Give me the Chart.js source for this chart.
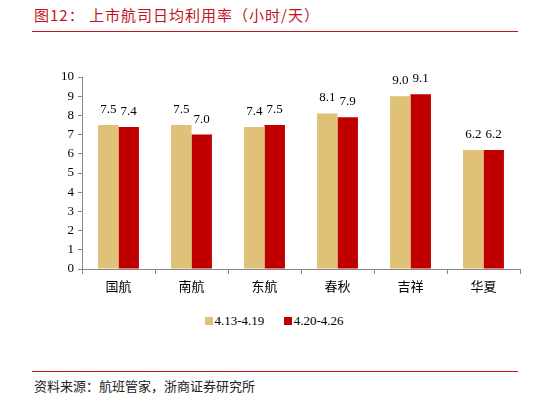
<!DOCTYPE html>
<html lang="zh-CN">
<head>
<meta charset="UTF-8">
<title>上市航司日均利用率</title>
<script src="https://cdn.jsdelivr.net/npm/chart.js"></script>
<style>
    body { margin: 0; width: 548px; height: 402px; background: #fff; position: relative; overflow: hidden; }
    .title { position: absolute; left: 34px; top: 4px; font: 15px "Noto Sans CJK SC", sans-serif; color: #C0141C; letter-spacing: 1px; }
    .line { position: absolute; left: 32px; width: 486px; height: 1px; background: #C0141C; }
    .source { position: absolute; left: 34px; top: 376px; font: 13px "Noto Sans CJK SC", sans-serif; color: #222; }
    .legend { position: absolute; top: 313px; left: 0; width: 548px; text-align: center; font: 13px "Liberation Serif", serif; color: #000; }
    .legend span.box { display: inline-block; width: 8px; height: 8px; margin-right: 2px; }
    .legend .item { margin: 0 8px; }
    canvas { position: absolute; left: 0; top: 0; }
</style>
</head>
<body>
    <div class="title">图12：&nbsp;上市航司日均利用率（小时/天）</div>
    <div class="line" style="top:31px"></div>
    <canvas id="c" width="548" height="301"></canvas>
    <div class="legend">
        <span class="item"><span class="box" style="background:#DFC177"></span>4.13-4.19</span>
        <span class="item"><span class="box" style="background:#C00000"></span>4.20-4.26</span>
    </div>
    <div class="line" style="top:371px"></div>
    <div class="source">资料来源：航班管家，浙商证券研究所</div>

<script>
const categories = ['国航', '南航', '东航', '春秋', '吉祥', '华夏'];
const week1 = [7.5, 7.5, 7.4, 8.1, 9.0, 6.2];
const week2 = [7.4, 7.0, 7.5, 7.9, 9.1, 6.2];
const seriesNames = ['4.13-4.19', '4.20-4.26'];

// rótulos acima das barras
const valueLabels = {
    id: 'valueLabels',
    afterDatasetsDraw(chart) {
        const ctx = chart.ctx;
        ctx.save();
        ctx.font = '13px "Liberation Serif", serif';
        ctx.fillStyle = '#000';
        ctx.textAlign = 'center';
        ctx.textBaseline = 'bottom';
        chart.data.datasets.forEach((ds, i) => {
            chart.getDatasetMeta(i).data.forEach((bar, j) => {
                ctx.fillText(ds.data[j].toFixed(1), bar.x, bar.y - 9);
            });
        });
        ctx.restore();
    }
};

new Chart(document.getElementById('c'), {
    type: 'bar',
    data: {
        labels: categories,
        datasets: [
            { label: seriesNames[0], data: week1, backgroundColor: '#DFC177' },
            { label: seriesNames[1], data: week2, backgroundColor: '#C00000' }
        ]
    },
    options: {
        responsive: false,
        animation: false,
        layout: { padding: { left: 40, right: 28, top: 77, bottom: 0 } },
        plugins: { legend: { display: false }, tooltip: { enabled: false } },
        datasets: { bar: { barPercentage: 1, categoryPercentage: 0.56 } },
        scales: {
            x: {
                grid: { offset: true, drawOnChartArea: false, tickLength: 5, color: '#888' },
                border: { color: '#888' },
                ticks: { font: { family: '"Noto Sans CJK SC", sans-serif', size: 13 }, color: '#000', padding: 4 },
                afterFit(s) { s.height = 32; }
            },
            y: {
                min: 0, max: 10,
                grid: { drawOnChartArea: false, tickLength: 4, color: '#888' },
                border: { color: '#888' },
                ticks: { stepSize: 1, font: { family: '"Liberation Serif", serif', size: 13 }, color: '#000', padding: 4 },
                afterFit(s) { s.width = 42; }
            }
        }
    },
    plugins: [valueLabels]
});
</script>
</body>
</html>
